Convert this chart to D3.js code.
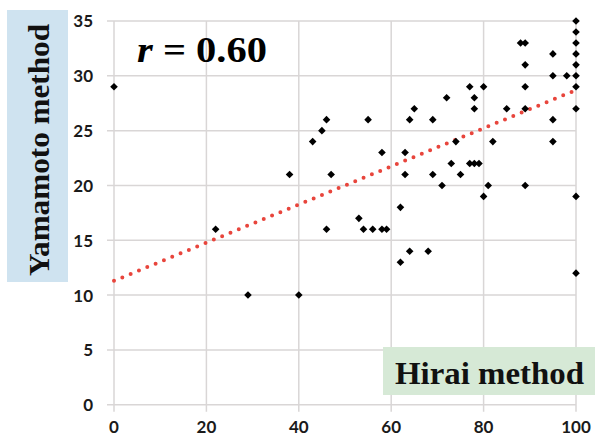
<!DOCTYPE html>
<html>
<head>
<meta charset="utf-8">
<script src="https://cdn.jsdelivr.net/npm/d3@7"></script>
<style>
  html, body { margin: 0; padding: 0; background: #fff; }
  svg { display: block; }
</style>
</head>
<body>
<svg id="chart" width="595" height="442"></svg>
<script>
// Hirai method (x) vs Yamamoto method (y)
const hiraiValues = [0,22,29,38,40,43,45,46,46,47,53,54,55,56,58,59,58,62,62,63,63,64,64,65,68,69,69,71,72,73,74,75,77,77,78,78,78,79,80,80,81,82,85,88,89,89,89,89,89,95,95,95,95,98,100,100,100,100,100,100,100,100,100,100];
const yamamotoValues = [29,16,10,21,10,24,25,26,16,21,17,16,26,16,16,16,23,18,13,23,21,26,14,27,14,26,21,20,28,22,24,21,29,22,28,27,22,22,29,19,20,24,27,33,33,31,29,27,20,32,30,26,24,30,35,34,33,32,31,30,29,27,19,12];
const xTicks = [0, 20, 40, 60, 80, 100];
const yTicks = [0, 5, 10, 15, 20, 25, 30, 35];
const trendIntercept = 11.3;
const trendSlope = 0.174;
const rLabel = "0.60";
const xTitle = "Hirai method";
const yTitle = "Yamamoto method";

const svg = d3.select("#chart");
const x = d3.scaleLinear().domain([0, 100]).range([114, 576]);
const y = d3.scaleLinear().domain([0, 35]).range([404.7, 21]);
const gridColor = "#d9d6d6";
const tickFont = "Lato, 'Open Sans', sans-serif";

// Y title box
svg.append("rect").attr("x", 7).attr("y", 10).attr("width", 61).attr("height", 272).attr("fill", "#cfe3f0");

// Horizontal gridlines (with outside ticks)
svg.append("g").selectAll("line").data(yTicks).join("line")
  .attr("x1", x(0) - 7).attr("x2", x(100))
  .attr("y1", d => y(d)).attr("y2", d => y(d))
  .attr("stroke", gridColor).attr("stroke-width", 1.5);

// Vertical gridlines (with outside ticks)
svg.append("g").selectAll("line").data(xTicks).join("line")
  .attr("x1", d => x(d)).attr("x2", d => x(d))
  .attr("y1", y(35)).attr("y2", y(0) + 7)
  .attr("stroke", gridColor).attr("stroke-width", 1.5);

// X title box covers the gridlines
svg.append("rect").attr("x", 383).attr("y", 347).attr("width", 212).attr("height", 48).attr("fill", "#d6e9d6");

// Tick labels
svg.append("g").selectAll("text").data(yTicks).join("text")
  .attr("x", 93).attr("y", d => y(d)).attr("dy", "0.38em")
  .attr("text-anchor", "end")
  .attr("font-family", tickFont).attr("font-weight", "bold").attr("font-size", 17)
  .attr("fill", "#1a1a1a")
  .text(d => d);

svg.append("g").selectAll("text").data(xTicks).join("text")
  .attr("x", d => x(d)).attr("y", 433)
  .attr("text-anchor", "middle")
  .attr("font-family", tickFont).attr("font-weight", "bold").attr("font-size", 17)
  .attr("fill", "#1a1a1a")
  .text(d => d);

// Trend line (dotted red)
svg.append("line")
  .attr("x1", x(0)).attr("y1", y(trendIntercept))
  .attr("x2", x(100)).attr("y2", y(trendIntercept + trendSlope * 100))
  .attr("stroke", "#e8453c").attr("stroke-width", 4)
  .attr("stroke-linecap", "round").attr("stroke-dasharray", "0 9");

// Points (diamonds)
const pts = hiraiValues.map((h, i) => ({ h, v: yamamotoValues[i] }));
const s = 3.8;
svg.append("g").selectAll("path").data(pts).join("path")
  .attr("d", d => {
    const cx = x(d.h), cy = y(d.v);
    return `M${cx},${cy - s}L${cx + s},${cy}L${cx},${cy + s}L${cx - s},${cy}Z`;
  })
  .attr("fill", "#000");

// r label
const rText = svg.append("text")
  .attr("x", 137).attr("y", 61.7)
  .attr("font-family", "'Liberation Serif', 'DejaVu Serif', serif")
  .attr("font-weight", "bold").attr("font-size", 36)
  .attr("fill", "#000")
  .attr("textLength", 130).attr("lengthAdjust", "spacingAndGlyphs");
rText.append("tspan").attr("font-style", "italic").text("r");
rText.append("tspan").text(" = " + rLabel);

// Axis titles
svg.append("text")
  .attr("transform", "translate(49,276) rotate(-90)")
  .attr("font-family", "'Liberation Serif', serif")
  .attr("font-weight", "bold").attr("font-size", 29)
  .attr("fill", "#111")
  .attr("textLength", 252).attr("lengthAdjust", "spacingAndGlyphs")
  .text(yTitle);

svg.append("text")
  .attr("x", 395).attr("y", 384)
  .attr("font-family", "'Liberation Serif', serif")
  .attr("font-weight", "bold").attr("font-size", 32)
  .attr("fill", "#111")
  .attr("textLength", 189).attr("lengthAdjust", "spacingAndGlyphs")
  .text(xTitle);
</script>
</body>
</html>
